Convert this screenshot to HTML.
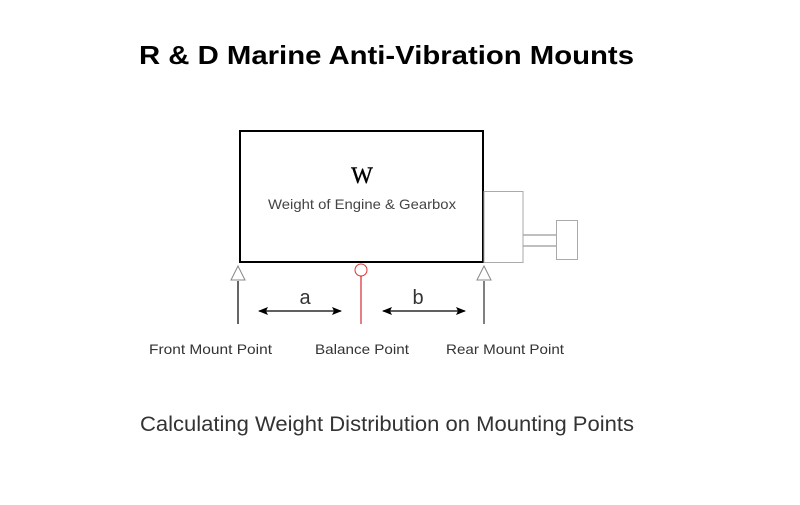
<!DOCTYPE html>
<html><head><style>
body{margin:0;width:800px;height:500px;background:#fff;overflow:hidden;font-family:"Liberation Sans",sans-serif}
</style></head><body>
<svg width="800" height="500" xmlns="http://www.w3.org/2000/svg">
<defs>
<marker id="ah" markerWidth="10" markerHeight="10" refX="9" refY="5" orient="auto-start-reverse" markerUnits="userSpaceOnUse"><path d="M0,1 L10,5 L0,9 L2,5 Z" fill="#000"/></marker>
</defs>
<text x="139" y="64" font-size="26" font-weight="bold" fill="#000" textLength="495" lengthAdjust="spacingAndGlyphs">R &amp; D Marine Anti-Vibration Mounts</text>
<rect x="240" y="131" width="243" height="131" fill="#fff" stroke="#000" stroke-width="2"/>
<text x="362" y="183" font-size="23" font-family="Liberation Serif" text-anchor="middle" stroke="#000" stroke-width="0.4">W</text>
<text x="268" y="209" font-size="14" fill="#444" textLength="188" lengthAdjust="spacingAndGlyphs">Weight of Engine &amp; Gearbox</text>
<rect x="484" y="191.5" width="39" height="71" fill="none" stroke="#aaa"/>
<line x1="523" y1="235" x2="556" y2="235" stroke="#aaa" stroke-width="1.5"/>
<line x1="523" y1="246" x2="556" y2="246" stroke="#aaa" stroke-width="1.5"/>
<rect x="556.5" y="220.5" width="21" height="39" fill="none" stroke="#aaa"/>
<polygon points="238,266 231,280 245,280" fill="#fff" stroke="#888"/>
<polygon points="484,266 477,280 491,280" fill="#fff" stroke="#888"/>
<line x1="238" y1="281" x2="238" y2="324" stroke="#000" stroke-width="1.2"/>
<line x1="484" y1="281" x2="484" y2="324" stroke="#555" stroke-width="1.5"/>
<circle cx="361" cy="270" r="6" fill="#fff" stroke="#d33"/>
<line x1="361" y1="276" x2="361" y2="324" stroke="#c00" stroke-width="1"/>
<line x1="259" y1="311" x2="341" y2="311" stroke="#000" stroke-width="1.3" marker-start="url(#ah)" marker-end="url(#ah)"/>
<line x1="383" y1="311" x2="465" y2="311" stroke="#000" stroke-width="1.3" marker-start="url(#ah)" marker-end="url(#ah)"/>
<text x="305" y="304" font-size="20" fill="#333" text-anchor="middle">a</text>
<text x="418" y="304" font-size="20" fill="#333" text-anchor="middle">b</text>
<text x="149" y="354" font-size="14" fill="#333" textLength="123" lengthAdjust="spacingAndGlyphs">Front Mount Point</text>
<text x="315" y="354" font-size="14" fill="#333" textLength="94" lengthAdjust="spacingAndGlyphs">Balance Point</text>
<text x="446" y="354" font-size="14" fill="#333" textLength="118" lengthAdjust="spacingAndGlyphs">Rear Mount Point</text>
<text x="140" y="431" font-size="21" fill="#333" textLength="494" lengthAdjust="spacingAndGlyphs">Calculating Weight Distribution on Mounting Points</text>
</svg>
</body></html>
